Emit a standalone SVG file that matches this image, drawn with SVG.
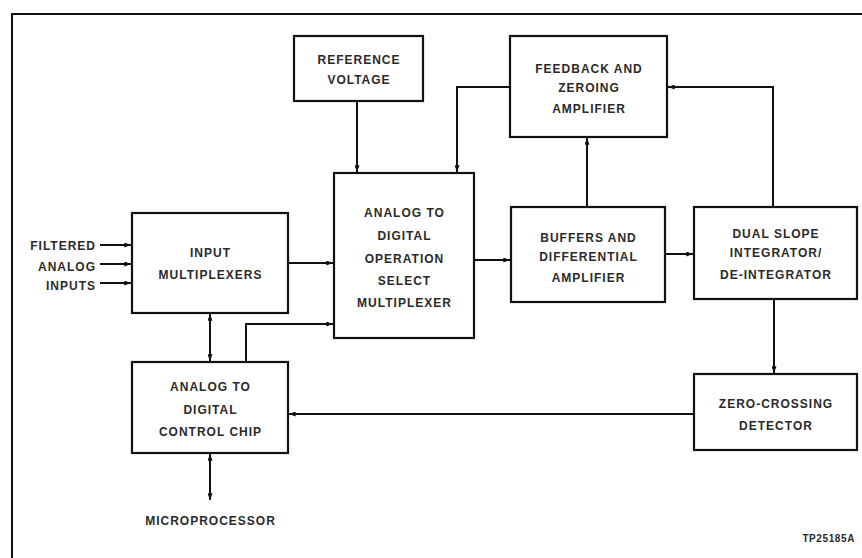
<svg xmlns="http://www.w3.org/2000/svg" width="862" height="558" viewBox="0 0 862 558">
<defs>
<style>
.box{fill:#fff;stroke:#111;stroke-width:2.2}
.ln{fill:none;stroke:#111;stroke-width:2}
.t{font-family:"Liberation Sans",Arial,sans-serif;font-size:12px;font-weight:bold;fill:#2a2a2a;letter-spacing:1px;text-anchor:middle}
.r{text-anchor:end}
.s{font-size:10px;letter-spacing:0.6px;text-anchor:end}
</style>
<marker id="a" viewBox="0 0 8 6" refX="8" refY="3" markerWidth="7" markerHeight="5" markerUnits="userSpaceOnUse" orient="auto-start-reverse">
<path d="M0,0 L8,3 L0,6 z" fill="#111"/>
</marker>
</defs>
<rect width="862" height="558" fill="#fff"/>
<g id="frame">
<path class="ln" d="M12,558 V14 H862" stroke-width="2.6"/>
</g>
<g id="connectors">
<path class="ln" d="M100,245 H131" marker-end="url(#a)"/>
<path class="ln" d="M100,264 H131" marker-end="url(#a)"/>
<path class="ln" d="M100,283 H131" marker-end="url(#a)"/>
<path class="ln" d="M288,263 H333" marker-end="url(#a)"/>
<path class="ln" d="M357,101 V172" marker-end="url(#a)"/>
<path class="ln" d="M510,87 H457 V172" marker-end="url(#a)"/>
<path class="ln" d="M587,207 V138" marker-end="url(#a)"/>
<path class="ln" d="M474,260 H510" marker-end="url(#a)"/>
<path class="ln" d="M665,254 H693" marker-end="url(#a)"/>
<path class="ln" d="M773,207 V87 H668" marker-end="url(#a)"/>
<path class="ln" d="M774,299 V373" marker-end="url(#a)"/>
<path class="ln" d="M694,414 H289" marker-end="url(#a)"/>
<path class="ln" d="M210,314 V361" marker-start="url(#a)" marker-end="url(#a)"/>
<path class="ln" d="M246,362 V324 H333" marker-end="url(#a)"/>
<path class="ln" d="M210,454 V500" marker-start="url(#a)" marker-end="url(#a)"/>
</g>
<g id="reference-voltage">
<rect class="box" x="294" y="36" width="129" height="65"/>
<text class="t" x="359" y="63.5">REFERENCE</text>
<text class="t" x="359" y="83.5">VOLTAGE</text>
</g>
<g id="feedback-amplifier">
<rect class="box" x="510" y="36" width="157" height="101"/>
<text class="t" x="589" y="72.5">FEEDBACK AND</text>
<text class="t" x="589" y="92">ZEROING</text>
<text class="t" x="589" y="113">AMPLIFIER</text>
</g>
<g id="operation-select">
<rect class="box" x="334" y="173" width="140" height="165"/>
<text class="t" x="404.5" y="217">ANALOG TO</text>
<text class="t" x="404.5" y="239.5">DIGITAL</text>
<text class="t" x="404.5" y="262.5">OPERATION</text>
<text class="t" x="404.5" y="284.5">SELECT</text>
<text class="t" x="404.5" y="307">MULTIPLEXER</text>
</g>
<g id="input-multiplexers">
<rect class="box" x="132" y="213" width="156" height="100"/>
<text class="t" x="210.5" y="257">INPUT</text>
<text class="t" x="210.5" y="279">MULTIPLEXERS</text>
</g>
<g id="buffers">
<rect class="box" x="511" y="207" width="154" height="95"/>
<text class="t" x="588.5" y="241.5">BUFFERS AND</text>
<text class="t" x="588.5" y="261">DIFFERENTIAL</text>
<text class="t" x="588.5" y="281.5">AMPLIFIER</text>
</g>
<g id="dual-slope">
<rect class="box" x="694" y="207" width="163" height="92"/>
<text class="t" x="776" y="237.5">DUAL SLOPE</text>
<text class="t" x="776" y="257">INTEGRATOR/</text>
<text class="t" x="776" y="279">DE-INTEGRATOR</text>
</g>
<g id="control-chip">
<rect class="box" x="132" y="362" width="156" height="91"/>
<text class="t" x="210.5" y="391">ANALOG TO</text>
<text class="t" x="210.5" y="414">DIGITAL</text>
<text class="t" x="210.5" y="435.5">CONTROL CHIP</text>
</g>
<g id="zero-crossing">
<rect class="box" x="694" y="374" width="163" height="76"/>
<text class="t" x="776" y="407.5">ZERO-CROSSING</text>
<text class="t" x="776" y="429.5">DETECTOR</text>
</g>
<g id="inputs-label">
<text class="t r" x="96" y="249.5">FILTERED</text>
<text class="t r" x="96" y="271">ANALOG</text>
<text class="t r" x="96" y="290">INPUTS</text>
</g>
<g id="microprocessor">
<text class="t" x="210.5" y="524.5">MICROPROCESSOR</text>
</g>
<g id="figure-id">
<text class="t s" x="855" y="541.5">TP25185A</text>
</g>
</svg>
